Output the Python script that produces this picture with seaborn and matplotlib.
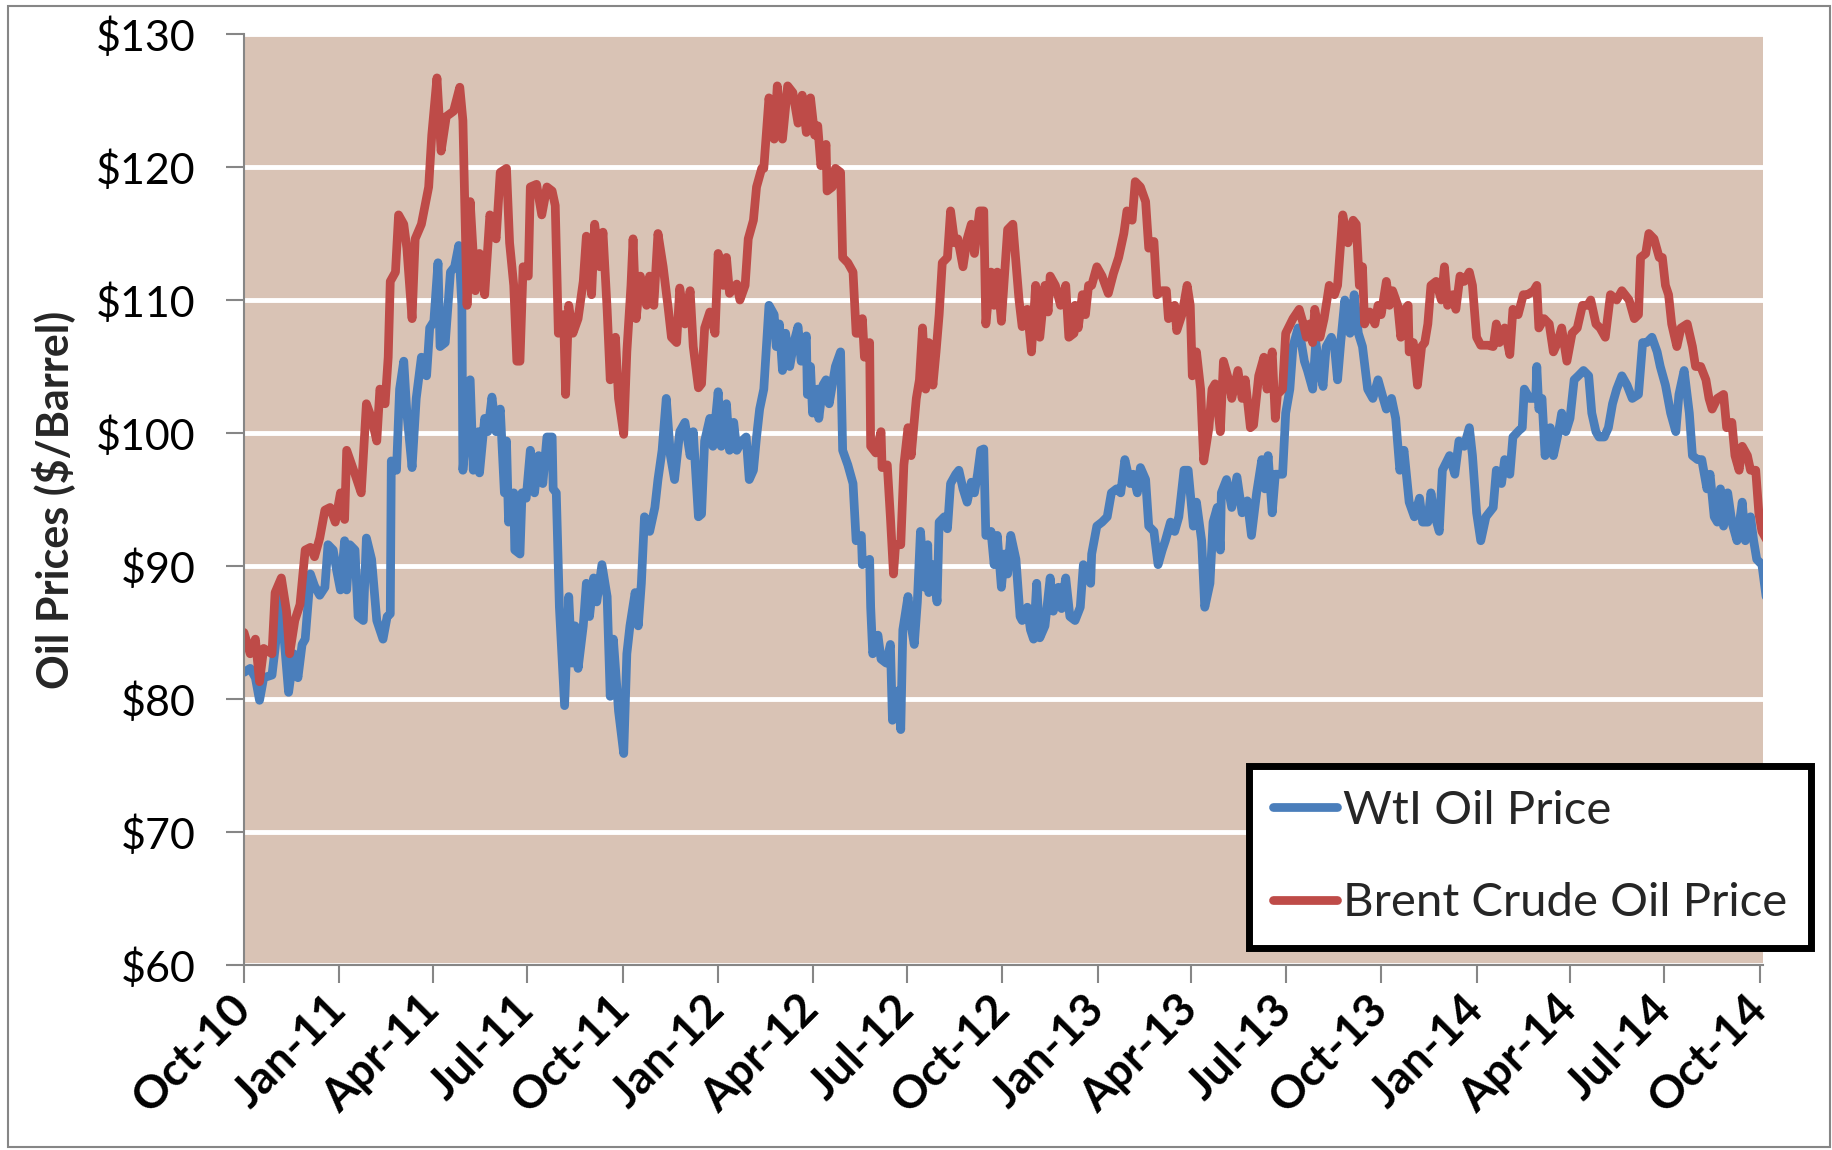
# 유가 추이 (WTI vs Brent) - 라인 차트

import matplotlib
matplotlib.use('Agg')
import matplotlib.pyplot as plt
import matplotlib.dates as mdates
from matplotlib.patches import Rectangle
import pandas as pd
import seaborn as sns

# 데이터 (2010-10-01 기준 경과일, 가격)
start_date = '2010-10-01'

wti_days = [0, 6, 11, 15, 19, 27, 30, 35, 38, 43, 48, 52, 56, 59, 64, 68, 73, 78, 81, 86,
            89, 93, 97, 99, 102, 107, 110, 115, 118, 123, 128, 134, 138, 141, 142, 147, 150, 154, 157, 162,
            166, 171, 176, 179, 183, 187, 189, 194, 199, 203, 207, 210, 211, 218, 221, 226, 227, 232, 235, 239,
            243, 247, 251,
            253, 255, 260, 261, 266, 268, 272, 276, 280, 284, 288, 292, 297, 298, 301, 304, 309, 313, 316, 319,
            322, 327, 330, 333, 337, 340, 345, 350, 353, 356, 361, 366, 369, 372, 377, 380, 383, 386, 391, 396,
            399, 403, 407, 411, 415, 420, 425, 430, 433, 438, 441, 444, 449, 452, 457, 460, 465, 468, 472, 475,
            480, 484, 487, 491, 494, 497, 501,
            506, 511, 513, 516, 519, 522, 526, 530, 534, 537, 542, 543, 546, 548, 553, 554, 558, 561, 564, 570,
            575, 577, 582, 587, 590, 595, 596, 603, 604, 606, 611, 614, 619, 623, 625, 630, 633, 635, 640, 643,
            646, 649, 652, 656, 659, 660, 664, 668, 670, 675, 678, 681, 686, 689, 693, 697, 701, 704, 707, 710,
            713, 715, 720, 723, 726, 730, 733, 736, 739, 744, 748,
            750, 755, 758, 761, 764, 767, 772, 777, 780, 785, 788, 792, 796, 801, 806, 809, 816, 817, 822, 827,
            832, 836, 841, 845, 849, 854, 857, 861, 864, 869, 872, 877, 881, 885, 888, 893, 897, 901, 906, 910,
            915, 918, 923, 926, 931, 934, 938, 941, 942, 947, 952, 957, 962, 967, 971, 976, 981, 984, 987, 991,
            994,
            998, 1001, 1004, 1008, 1011, 1016, 1019, 1022, 1025, 1030, 1033, 1037, 1040, 1043, 1048, 1051, 1054, 1057, 1061, 1066,
            1070, 1074, 1078, 1083, 1088, 1093, 1098, 1101, 1106, 1110, 1114, 1118, 1123, 1128, 1133, 1136, 1141, 1144, 1147, 1152,
            1155, 1162, 1167, 1171, 1176, 1181, 1184, 1188, 1192, 1197, 1200, 1204, 1207, 1212, 1215, 1220, 1223, 1229, 1232, 1234,
            1239,
            1245, 1246, 1248, 1251, 1254, 1259, 1262, 1267, 1270, 1274, 1278, 1282, 1286, 1291, 1296, 1299, 1303, 1306, 1311, 1315,
            1319, 1323, 1328, 1333, 1338, 1344, 1348, 1352, 1357, 1362, 1365, 1370, 1375, 1380, 1383, 1388, 1393, 1396, 1401, 1405,
            1410, 1413, 1417, 1420, 1423, 1426, 1430, 1434, 1439, 1444, 1447, 1452, 1455, 1458, 1463, 1467]
wti_price = [82.0, 82.3, 81.6, 79.9, 81.6, 81.8, 83.8, 87.7, 85.2, 80.5, 83.4, 81.6, 84.1, 84.5, 89.4, 88.5, 87.8, 88.4, 91.6, 91.2,
             89.8, 88.2, 91.9, 88.2, 91.6, 91.2, 86.2, 85.9, 92.1, 90.5, 85.9, 84.5, 86.2, 86.4, 97.9, 97.2, 103.3, 105.4, 101.5, 97.4,
             102.6, 105.7, 104.3, 107.9, 108.4, 112.8, 106.5, 106.8, 112.1, 112.5, 114.1, 109.6, 97.2, 104.0, 97.2, 100.1, 97.0, 101.1, 100.1, 102.7,
             100.1, 101.8, 95.5,
             99.4, 93.3, 95.5, 91.2, 90.9, 95.5, 95.1, 98.7, 95.5, 98.3, 96.2, 99.7, 99.7, 95.8, 95.5, 86.9, 79.5, 87.7, 82.7, 85.5,
             82.3, 85.5, 88.7, 86.2, 89.1, 87.3, 90.1, 87.7, 80.2, 84.5, 79.1, 75.9, 83.4, 85.5, 88.0, 85.5, 88.7, 93.7, 92.6, 94.4,
             96.5, 98.7, 102.6, 98.3, 96.5, 100.1, 100.8, 98.3, 100.1, 93.7, 93.9, 99.4, 101.1, 99.0, 103.1, 99.0, 102.2, 98.7, 100.8, 98.7,
             99.4, 99.7, 96.5, 97.2, 99.7, 101.8, 103.3,
             109.6, 108.9, 106.5, 108.2, 104.7, 107.5, 105.0, 106.8, 108.0, 105.4, 107.3, 102.9, 105.0, 101.5, 103.3, 101.1, 103.6, 104.0, 102.2, 105.0,
             106.1, 98.7, 97.6, 96.2, 91.9, 92.3, 90.1, 90.5, 86.9, 83.4, 84.8, 83.0, 82.7, 84.1, 78.4, 80.6, 77.7, 85.2, 87.7, 85.5,
             84.1, 87.3, 92.6, 88.4, 91.6, 88.0, 90.1, 87.3, 93.3, 93.7, 92.8, 96.2, 96.9, 97.2, 95.8, 94.8, 96.3, 95.5, 96.9, 98.7,
             98.8, 92.3, 92.6, 90.1, 92.3, 88.4, 90.9, 89.4, 92.3, 90.5, 86.2,
             85.9, 86.9, 85.2, 84.5, 88.7, 84.6, 85.5, 89.1, 86.6, 88.4, 86.8, 89.1, 86.2, 85.9, 86.9, 90.1, 88.7, 90.9, 93.0, 93.3,
             93.7, 95.5, 95.8, 95.5, 98.0, 96.2, 96.9, 95.5, 97.4, 96.5, 93.0, 92.6, 90.1, 91.2, 91.9, 93.3, 92.6, 93.7, 97.2, 97.2,
             93.0, 94.8, 91.9, 86.9, 88.7, 93.3, 94.4, 91.2, 95.5, 96.5, 94.4, 96.7, 94.0, 94.9, 92.3, 95.5, 98.0, 95.8, 98.3, 94.0,
             96.9,
             96.9, 96.9, 101.5, 103.3, 106.5, 107.9, 106.8, 105.4, 104.7, 103.3, 106.8, 104.7, 103.5, 106.5, 107.2, 106.5, 104.0, 106.8, 110.0, 107.5,
             110.4, 107.5, 106.5, 103.3, 102.6, 104.0, 102.6, 101.8, 102.6, 101.1, 97.2, 98.7, 94.8, 93.7, 95.1, 93.3, 93.3, 95.5, 94.0, 92.6,
             97.2, 98.3, 96.9, 99.4, 99.0, 100.4, 98.3, 94.0, 91.9, 93.7, 94.0, 94.4, 97.2, 96.2, 98.0, 96.9, 99.7, 100.2, 100.4, 103.3,
             102.6,
             102.6, 105.0, 101.8, 102.6, 98.3, 100.4, 98.3, 100.1, 101.5, 100.1, 101.1, 104.0, 104.3, 104.7, 104.3, 101.5, 100.1, 99.7, 99.7, 100.4,
             102.2, 103.3, 104.3, 103.6, 102.6, 102.9, 106.8, 106.8, 107.2, 106.1, 105.0, 103.6, 101.5, 100.1, 102.9, 104.7, 101.5, 98.3, 98.0, 98.0,
             95.8, 96.9, 93.7, 93.3, 95.8, 93.0, 95.5, 93.3, 91.9, 94.8, 91.9, 93.7, 91.9, 90.5, 90.1, 87.7]

brent_days = [0, 6, 11, 15, 19, 27, 30, 36, 41, 44, 49, 54, 59, 64, 68, 73, 78, 83, 88, 93,
              97, 99, 107, 113, 118, 123, 128, 131, 136, 139, 141, 146, 149, 154, 157, 162, 165, 171, 178, 181,
              186, 190, 195, 202, 208, 211, 215, 218, 223, 227, 232, 237, 243, 247,
              253, 256, 260, 263, 266, 269, 274, 276, 282, 287, 292, 297, 300, 303, 308, 310, 313, 317, 322, 327,
              330, 335, 338, 343, 346, 350, 353, 358, 361, 366, 369, 373, 375, 378, 382, 388, 391, 395, 399, 404,
              409, 412, 417, 420, 425, 430, 433, 438, 441, 444, 449, 454, 457, 462, 465, 468, 475, 478, 483, 486,
              491, 494, 499,
              501, 506, 511, 514, 519, 524, 529, 534, 538, 542, 546, 550, 553, 556, 561, 562, 567, 570, 575, 577,
              582, 587, 590, 593, 596, 598, 603, 604, 609, 614, 615, 620, 623, 626, 628, 633, 636, 640, 643, 648,
              651, 654, 657, 660, 664, 667, 670, 673, 678, 681, 685, 688, 693, 697, 701, 704, 709, 713, 715, 720,
              723, 726, 730, 733, 736, 741,
              747, 750, 755, 759, 763, 767, 772, 775, 777, 782, 787, 792, 795, 800, 801, 804, 808, 811, 814, 817,
              822, 827, 833, 838, 843, 848, 851, 856, 859, 864, 869, 872, 877, 880, 885, 889, 891, 897, 899, 904,
              909, 912, 914, 918, 922, 925, 930, 933, 936, 941, 944, 949, 952, 958, 962, 965, 970, 973, 978, 983,
              986, 991, 994,
              996, 1001, 1004, 1011, 1017, 1021, 1024, 1027, 1030, 1032, 1037, 1041, 1046, 1051, 1054, 1059, 1064, 1069, 1072, 1075,
              1078, 1080, 1085, 1090, 1093, 1096, 1101, 1104, 1107, 1112, 1115, 1119, 1122, 1123, 1127, 1131, 1135, 1138, 1141, 1144,
              1149, 1154, 1157, 1160, 1165, 1168, 1172, 1176, 1181, 1184, 1188, 1192, 1199, 1204, 1207, 1210, 1215, 1220, 1223, 1228,
              1233, 1237,
              1243, 1246, 1248, 1253, 1258, 1262, 1266, 1270, 1275, 1280, 1285, 1290, 1295, 1298, 1303, 1307, 1312, 1317, 1323, 1328,
              1335, 1340, 1344, 1346, 1351, 1354, 1359, 1364, 1367, 1370, 1373, 1376, 1381, 1385, 1391, 1396, 1399, 1404, 1409, 1412,
              1415, 1420, 1426, 1429, 1434, 1437, 1441, 1444, 1449, 1452, 1457, 1460, 1463, 1468]
brent_price = [85.0, 83.4, 84.5, 81.3, 83.8, 83.4, 88.0, 89.1, 86.6, 83.4, 85.9, 87.1, 91.2, 91.4, 90.7, 92.1, 94.2, 94.4, 93.3, 95.5,
               93.5, 98.7, 96.9, 95.5, 102.2, 101.1, 99.4, 103.3, 102.2, 105.7, 111.4, 112.1, 116.4, 115.7, 113.9, 108.6, 114.6, 115.7, 118.5, 122.4,
               126.7, 121.2, 123.8, 124.2, 126.0, 123.5, 109.6, 117.4, 110.7, 113.5, 110.4, 116.4, 114.6, 119.6,
               119.9, 114.3, 111.1, 105.4, 105.4, 112.5, 111.8, 118.5, 118.7, 116.4, 118.5, 118.2, 117.1, 107.5, 108.9, 102.9, 109.6, 107.5, 108.6, 111.4,
               114.8, 110.4, 115.7, 112.5, 115.1, 109.3, 104.0, 107.2, 102.6, 99.9, 106.1, 111.1, 114.6, 108.6, 111.8, 109.6, 111.8, 109.6, 115.0, 112.5,
               109.3, 107.2, 106.8, 110.9, 108.2, 110.7, 106.5, 103.4, 103.7, 107.9, 109.1, 107.5, 113.5, 111.1, 113.2, 110.5, 111.2, 110.0, 111.1, 114.6,
               116.0, 118.5, 119.9,
               119.9, 125.2, 122.1, 126.1, 122.1, 126.1, 125.6, 123.3, 125.4, 122.6, 125.2, 122.4, 123.1, 120.1, 121.7, 118.2, 118.5, 119.9, 119.6, 113.2,
               112.8, 112.1, 107.5, 107.5, 108.6, 105.7, 106.8, 99.0, 98.5, 100.1, 97.4, 97.6, 93.7, 89.4, 91.6, 91.6, 97.6, 100.4, 98.3, 102.6,
               104.0, 107.9, 103.3, 106.8, 103.6, 106.1, 108.9, 112.8, 113.2, 116.7, 114.3, 114.6, 112.5, 114.6, 115.7, 113.5, 116.7, 116.7, 108.2, 112.1,
               109.6, 112.1, 108.4, 111.8, 115.3, 115.7,
               110.0, 108.0, 109.3, 106.1, 111.1, 107.2, 111.1, 109.1, 111.8, 111.1, 109.6, 111.1, 107.2, 107.5, 109.6, 107.9, 110.4, 108.9, 111.1, 111.1,
               112.5, 111.8, 110.5, 112.0, 113.2, 115.0, 116.7, 116.0, 118.9, 118.5, 117.4, 113.9, 114.4, 110.4, 110.7, 110.7, 108.6, 109.6, 107.7, 108.9,
               111.1, 109.6, 104.3, 106.1, 103.3, 97.9, 100.4, 103.3, 103.7, 100.1, 105.4, 104.0, 102.6, 104.7, 102.6, 104.0, 100.4, 100.6, 104.3, 105.7,
               103.3, 106.1, 101.1,
               102.9, 103.3, 107.5, 108.6, 109.3, 108.2, 107.2, 108.2, 106.8, 109.3, 107.2, 108.6, 111.1, 110.4, 111.1, 116.4, 114.3, 116.0, 115.7, 111.1,
               112.5, 108.2, 109.1, 108.2, 109.6, 108.9, 111.4, 109.6, 110.7, 109.6, 107.2, 109.3, 109.6, 106.1, 106.8, 103.6, 106.5, 106.8, 108.2, 111.1,
               111.4, 110.0, 112.5, 109.6, 110.4, 109.3, 111.8, 111.4, 112.1, 111.1, 107.2, 106.6, 106.6, 106.5, 108.2, 106.8, 107.9, 105.9, 109.3, 108.9,
               110.4, 110.4,
               110.7, 111.1, 107.9, 108.6, 108.2, 106.1, 106.8, 107.9, 105.4, 107.5, 107.9, 109.6, 109.6, 110.0, 108.2, 107.9, 107.2, 110.4, 110.0, 110.7,
               110.0, 108.6, 108.9, 113.2, 113.5, 115.0, 114.6, 113.2, 113.2, 111.1, 110.4, 108.2, 106.5, 107.9, 108.2, 106.5, 105.0, 105.0, 104.0, 102.6,
               101.8, 102.6, 102.9, 100.4, 100.8, 98.3, 97.2, 99.0, 98.3, 97.2, 97.2, 94.0, 92.6, 91.9]

series_names = ['WtI Oil Price', 'Brent Crude Oil Price']
series_colors = ['#4A7EBB', '#BE4B48']
y_ticks = [60, 70, 80, 90, 100, 110, 120, 130]

# 데이터프레임 구성
t0 = pd.Timestamp(start_date)
wti = pd.DataFrame({'date': t0 + pd.to_timedelta(wti_days, unit='D'),
                    'price': wti_price, 'series': series_names[0]})
brent = pd.DataFrame({'date': t0 + pd.to_timedelta(brent_days, unit='D'),
                      'price': brent_price, 'series': series_names[1]})
df = pd.concat([wti, brent], ignore_index=True)

# 스타일 / 폰트
sns.set_style('white')
plt.rcParams['font.family'] = ['Lato', 'DejaVu Sans']

fig = plt.figure(figsize=(18.33, 11.5), dpi=100)
ax = fig.add_axes([0.1331, 0.1609, 0.8287, 0.8095])
ax.set_facecolor('#D9C3B5')

sns.lineplot(data=df, x='date', y='price', hue='series',
             hue_order=series_names, palette=series_colors,
             estimator=None, linewidth=6.3,
             solid_joinstyle='round', solid_capstyle='round',
             ax=ax)

# 축 설정
ax.set_ylim(60, 130)
ax.set_xlim(t0, t0 + pd.Timedelta(days=1464))
ax.set_yticks(y_ticks)
ax.set_yticklabels(['$' + str(v) for v in y_ticks], fontsize=31)
ax.xaxis.set_major_locator(mdates.MonthLocator(bymonth=[1, 4, 7, 10]))
ax.xaxis.set_major_formatter(mdates.DateFormatter('%b-%y'))
for lab in ax.get_xticklabels():
    lab.set_rotation(45)
    lab.set_ha('right')
    lab.set_va('center')
    lab.set_rotation_mode('anchor')
    lab.set_fontsize(33)
    lab.set_fontweight('bold')

ax.yaxis.grid(True, color='white', linewidth=3.5)
ax.xaxis.grid(False)
ax.set_axisbelow(True)

for side in ['top', 'right']:
    ax.spines[side].set_visible(False)
for side in ['left', 'bottom']:
    ax.spines[side].set_color('#868686')
    ax.spines[side].set_linewidth(1.5)
ax.tick_params(axis='both', which='major', length=13, width=1.5, color='#868686',
               left=True, bottom=True, labelcolor='black')
ax.tick_params(axis='x', pad=14)
ax.tick_params(axis='y', pad=22)

ax.set_xlabel('')
ax.set_ylabel('Oil Prices ($/Barrel)', fontsize=31, fontweight='bold')
ax.yaxis.set_label_coords(-0.111, 0.5)

# 범례
handles, labels = ax.get_legend_handles_labels()
leg = ax.legend(handles, labels, loc='upper left',
                bbox_to_anchor=(0.6814, 0.3339), bbox_transform=fig.transFigure,
                borderaxespad=0, fontsize=34, frameon=True, fancybox=False, framealpha=1,
                edgecolor='black', borderpad=0.5, labelspacing=1.07,
                handlelength=1.36, handletextpad=0.13)
leg.get_frame().set_linewidth(5)
for h in leg.get_lines():
    h.set_linewidth(6.3)

# 차트 외곽선
fig.patches.append(Rectangle((8 / 1833, 3 / 1150), 1822 / 1833, 1141 / 1150,
                             transform=fig.transFigure, fill=False,
                             edgecolor='#868686', linewidth=1.5))

fig.savefig('out.png', dpi=100)
